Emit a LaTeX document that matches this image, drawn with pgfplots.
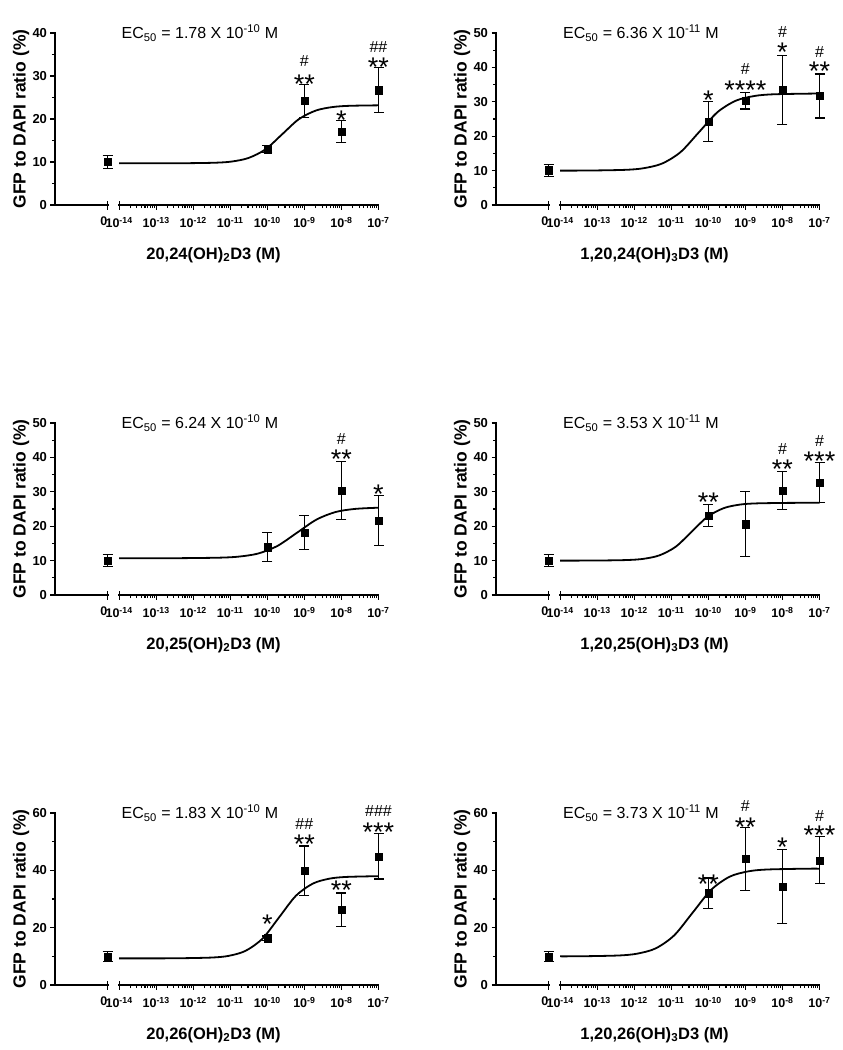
\documentclass[border=0pt]{standalone}
\usepackage{fontspec}
\setmainfont{Liberation Sans}
\usepackage{pgfplots}
\pgfplotsset{compat=1.18}
\newcommand{\xl}[1]{\mbox{\fontsize{12.5}{14}\selectfont\bfseries 10\textsuperscript{#1}}}
\pgfplotsset{
  panel/.style={
    scale only axis, width=323.5pt, height=172pt, anchor=south west,
    xmin=-15.73, xmax=-7, ymin=0, clip=false,
    axis line style={draw=none},
    tick pos=left,
    /pgf/number format/assume math mode=true,
    xtick={-14.31,-14,-13,-12,-11,-10,-9,-8,-7},
    xticklabels={\mbox{\fontsize{12.5}{14}\selectfont\bfseries 0\hspace*{7.5pt}},\xl{-14},\xl{-13},\xl{-12},\xl{-11},\xl{-10},\xl{-9},\xl{-8},\xl{-7}},
    minor xtick={-13.699,-13.523,-13.398,-13.301,-13.222,-13.155,-13.097,-13.046,
      -12.699,-12.523,-12.398,-12.301,-12.222,-12.155,-12.097,-12.046,
      -11.699,-11.523,-11.398,-11.301,-11.222,-11.155,-11.097,-11.046,
      -10.699,-10.523,-10.398,-10.301,-10.222,-10.155,-10.097,-10.046,
      -9.699,-9.523,-9.398,-9.301,-9.222,-9.155,-9.097,-9.046,
      -8.699,-8.523,-8.398,-8.301,-8.222,-8.155,-8.097,-8.046,
      -7.699,-7.523,-7.398,-7.301,-7.222,-7.155,-7.097,-7.046},
    minor y tick num=1,
    tick align=outside, major tick length=4.5pt, minor tick length=3pt,
    every tick/.append style={black, line width=1.2pt},
    every minor tick/.append style={black, line width=1.1pt},
    xticklabel style={yshift=-4pt},
    yticklabel style={font=\bfseries\fontsize{13}{15}\selectfont},
    ylabel={GFP to DAPI ratio (\%)},
    ylabel style={font=\bfseries\fontsize{17.5}{20}\selectfont, at={(axis description cs:-0.105,0.5)}, anchor=center},
    xlabel style={font=\bfseries\fontsize{16.5}{19}\selectfont, at={(axis description cs:0.49,-0.29)}, anchor=center},
    title style={font=\fontsize{16}{18}\selectfont, at={(axis description cs:0.448,1.0)}, anchor=center, yshift=-6pt},
  },
  pts/.style={only marks, mark=square*, mark size=3.6pt, black,
    error bars/.cd, y dir=both, y explicit,
    error bar style={line width=1.2pt, black},
    error mark options={rotate=90, mark size=5pt, line width=1.2pt, black}},
  fitcurve/.style={smooth, no marks, black, line width=1.8pt},
}
\tikzset{
  st/.style={font=\fontsize{27}{27}\selectfont, inner sep=0pt, anchor=center, yshift=-6pt},
  hs/.style={font=\fontsize{16}{16}\selectfont, inner sep=0pt, anchor=center},
  brk/.style={line width=1.8pt, line cap=rect},
  brkcap/.style={line width=1.2pt},
}
\newcommand{\axisbreak}{%
  \draw[brk] (rel axis cs:0,1) -- (rel axis cs:0,0) -- (axis cs:-14.31,0);
  \draw[brk] (axis cs:-14,0) -- (axis cs:-7,0);
  \draw[brkcap] ([yshift=-4.5pt]axis cs:-14.31,0) -- ([yshift=4.5pt]axis cs:-14.31,0);
  \draw[brkcap] ([yshift=-4.5pt]axis cs:-14,0) -- ([yshift=4.5pt]axis cs:-14,0);
}
\begin{document}
\begin{tikzpicture}
\useasboundingbox (0,0) rectangle (843pt,-1050pt);

% Panel 1
\begin{axis}[panel, at={(55pt,-205pt)}, ymax=40, ytick={0,10,20,30,40},
  title={EC\textsubscript{50} = 1.78 X 10\textsuperscript{-10} M},
  xlabel={20,24(OH)\textsubscript{2}D3 (M)}]
\axisbreak
\addplot[fitcurve] coordinates {(-14,9.70) (-13,9.70) (-12.33,9.71) (-11.42,9.83) (-10.96,10.11) (-10.51,10.93) (-10.05,12.94) (-9.6,16.45) (-9.15,19.96) (-8.69,21.97) (-8.24,22.78) (-7.78,23.07) (-7,23.18)};
\addplot[pts] coordinates {(-14.31,10.0) +- (0,1.6) (-10,13.0) +- (0,0.8) (-9,24.2) +- (0,3.9) (-8,17.1) +- (0,2.5) (-7,26.7) +- (0,5.2)};
\node[st] at (axis cs:-9,29.5) {**};
\node[hs] at (axis cs:-9,33.4) {\#};
\node[st] at (axis cs:-8,21.2) {*};
\node[st] at (axis cs:-7,33.4) {**};
\node[hs] at (axis cs:-7,36.7) {\#\#};
\end{axis}

% Panel 2
\begin{axis}[panel, at={(496pt,-205pt)}, ymax=50, ytick={0,10,20,30,40,50},
  title={EC\textsubscript{50} = 6.36 X 10\textsuperscript{-11} M},
  xlabel={1,20,24(OH)\textsubscript{3}D3 (M)}]
\axisbreak
\addplot[fitcurve] coordinates {(-14,10.0) (-13.25,10.02) (-12.25,10.22) (-11.75,10.69) (-11.25,12.04) (-10.75,15.38) (-10.25,21.2) (-9.75,27.02) (-9.25,30.36) (-8.75,31.7) (-8.25,32.18) (-7.25,32.38) (-7,32.39)};
\addplot[pts] coordinates {(-14.31,10.1) +- (0,1.7) (-10,24.2) +- (0,5.8) (-9,30.3) +- (0,2.4) (-8,33.5) +- (0,10.0) (-7,31.7) +- (0,6.4)};
\node[st] at (axis cs:-10,32.2) {*};
\node[st] at (axis cs:-9,35.1) {****};
\node[hs] at (axis cs:-9,39.4) {\#};
\node[st] at (axis cs:-8,46.2) {*};
\node[hs] at (axis cs:-8,50.4) {\#};
\node[st] at (axis cs:-7,40.7) {**};
\node[hs] at (axis cs:-7,44.5) {\#};
\end{axis}

% Panel 3
\begin{axis}[panel, at={(55pt,-595pt)}, ymax=50, ytick={0,10,20,30,40,50},
  title={EC\textsubscript{50} = 6.24 X 10\textsuperscript{-10} M},
  xlabel={20,25(OH)\textsubscript{2}D3 (M)}]
\axisbreak
\addplot[fitcurve] coordinates {(-14,10.7) (-13,10.7) (-12.36,10.71) (-11.31,10.85) (-10.78,11.15) (-10.25,12.05) (-9.73,14.25) (-9.2,18.1) (-8.67,21.95) (-8.15,24.15) (-7.62,25.04) (-7,25.38)};
\addplot[pts] coordinates {(-14.31,10.0) +- (0,1.8) (-10,13.9) +- (0,4.2) (-9,18.2) +- (0,5.0) (-8,30.4) +- (0,8.5) (-7,21.7) +- (0,7.3)};
\node[st] at (axis cs:-8,41.3) {**};
\node[hs] at (axis cs:-8,45.3) {\#};
\node[st] at (axis cs:-7,31.1) {*};
\end{axis}

% Panel 4
\begin{axis}[panel, at={(496pt,-595pt)}, ymax=50, ytick={0,10,20,30,40,50},
  title={EC\textsubscript{50} = 3.53 X 10\textsuperscript{-11} M},
  xlabel={1,20,25(OH)\textsubscript{3}D3 (M)}]
\axisbreak
\addplot[fitcurve] coordinates {(-14,10.0) (-13.06,10.02) (-12.19,10.17) (-11.75,10.52) (-11.32,11.53) (-10.88,14.03) (-10.45,18.4) (-10.02,22.77) (-9.58,25.27) (-9.15,26.28) (-8.71,26.63) (-7.84,26.78) (-7,26.8)};
\addplot[pts] coordinates {(-14.31,10.0) +- (0,1.7) (-10,23.1) +- (0,3.3) (-9,20.6) +- (0,9.4) (-8,30.4) +- (0,5.5) (-7,32.7) +- (0,5.8)};
\node[st] at (axis cs:-10,28.6) {**};
\node[st] at (axis cs:-8,38.3) {**};
\node[hs] at (axis cs:-8,42.4) {\#};
\node[st] at (axis cs:-7,40.5) {***};
\node[hs] at (axis cs:-7,44.9) {\#};
\end{axis}

% Panel 5
\begin{axis}[panel, at={(55pt,-985pt)}, ymax=60, ytick={0,20,40,60},
  title={EC\textsubscript{50} = 1.83 X 10\textsuperscript{-10} M},
  xlabel={20,26(OH)\textsubscript{2}D3 (M)}]
\axisbreak
\addplot[fitcurve] coordinates {(-14,9.3) (-13,9.3) (-12.41,9.33) (-11.5,9.58) (-11.04,10.18) (-10.59,11.91) (-10.13,16.19) (-9.68,23.65) (-9.23,31.11) (-8.77,35.39) (-8.32,37.11) (-7.86,37.71) (-7,37.97)};
\addplot[pts] coordinates {(-14.31,9.9) +- (0,1.7) (-10,16.3) +- (0,0.8) (-9,39.8) +- (0,8.7) (-8,26.2) +- (0,5.9) (-7,44.9) +- (0,7.9)};
\node[st] at (axis cs:-10,23.3) {*};
\node[st] at (axis cs:-9,51.3) {**};
\node[hs] at (axis cs:-9,56.1) {\#\#};
\node[st] at (axis cs:-8,35.0) {**};
\node[st] at (axis cs:-7,55.3) {***};
\node[hs] at (axis cs:-7,60.8) {\#\#\#};
\end{axis}

% Panel 6
\begin{axis}[panel, at={(496pt,-985pt)}, ymax=60, ytick={0,20,40,60},
  title={EC\textsubscript{50} = 3.73 X 10\textsuperscript{-11} M},
  xlabel={1,20,26(OH)\textsubscript{3}D3 (M)}]
\axisbreak
\addplot[fitcurve] coordinates {(-14,10.0) (-13.42,10.03) (-12.42,10.30) (-11.92,10.94) (-11.42,12.78) (-10.92,17.34) (-10.42,25.3) (-9.92,33.26) (-9.42,37.82) (-8.92,39.65) (-8.42,40.29) (-7.42,40.57) (-7,40.59)};
\addplot[pts] coordinates {(-14.31,9.9) +- (0,1.7) (-10,32.0) +- (0,5.3) (-9,44.0) +- (0,10.9) (-8,34.4) +- (0,12.9) (-7,43.5) +- (0,8.2)};
\node[st] at (axis cs:-10,37.3) {**};
\node[st] at (axis cs:-9,57.1) {**};
\node[hs] at (axis cs:-9,62.5) {\#};
\node[st] at (axis cs:-8,50.1) {*};
\node[st] at (axis cs:-7,54.2) {***};
\node[hs] at (axis cs:-7,59.0) {\#};
\end{axis}
\end{tikzpicture}
\end{document}
